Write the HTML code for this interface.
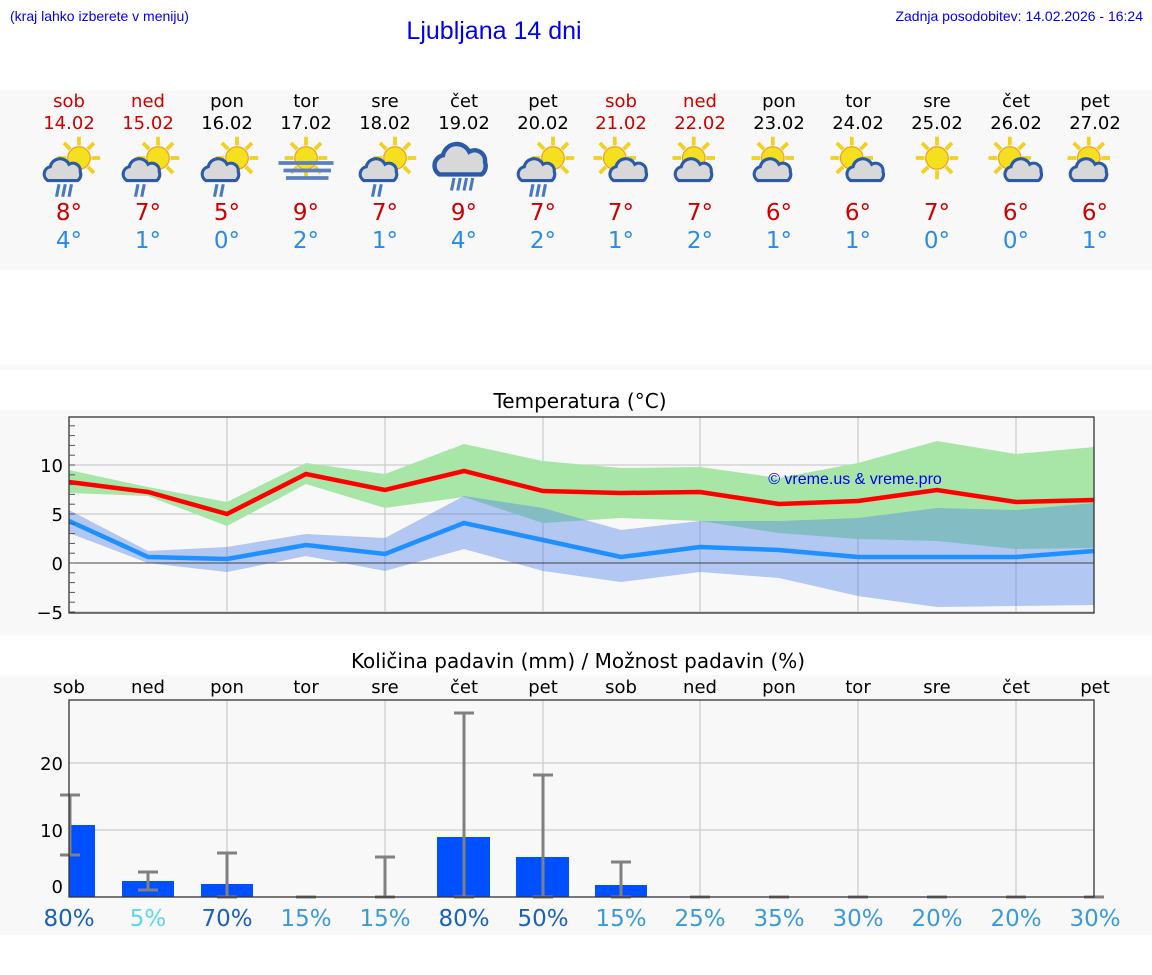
<!DOCTYPE html>
<html><head><meta charset="utf-8"><style>
body{margin:0;width:1152px;height:975px;background:#fff;font-family:"Liberation Sans","DejaVu Sans",sans-serif;overflow:hidden}
svg{position:absolute;left:0;top:0}
</style></head><body>
<svg id="s" width="1152" height="975" xmlns="http://www.w3.org/2000/svg" font-family="DejaVu Sans, Liberation Sans, sans-serif">
<defs>
<g id="sun"><g stroke="#f0d020" stroke-width="3"><line x1="0" y1="-17" x2="0" y2="-10"/><line x1="0" y1="17" x2="0" y2="10"/><line x1="-17" y1="0" x2="-10" y2="0"/><line x1="17" y1="0" x2="10" y2="0"/><line x1="12" y1="12" x2="7" y2="7"/><line x1="-12" y1="-12" x2="-7" y2="-7"/><line x1="12" y1="-12" x2="7" y2="-7"/><line x1="-12" y1="12" x2="-7" y2="7"/></g><circle r="9" fill="#f5e020" stroke="#f0a020" stroke-width="1"/></g>
<path id="cloud" d="M-14,8 a6,6 0 0 1 2,-11 a8,8 0 0 1 15,-2 a6,6 0 0 1 9,6 a6,6 0 0 1 -2,7 z" fill="#d8d8d8" stroke="#2a5aa8" stroke-width="2.5"/>
</defs>
</svg>
<script>
const s=document.getElementById('s');let h='';
const T=(x,y,t,o)=>{o=o||{};h+=`<text x="${x}" y="${y}" font-size="${o.fs||18}" fill="${o.c||'#000'}" text-anchor="${o.a||'middle'}" ${o.f?'font-family="'+o.f+'"':''}>${t}</text>`};
h+='<rect x="0" y="90" width="1152" height="180" fill="#f8f8f8"/>';
h+='<rect x="0" y="365" width="1152" height="5" fill="#f8f8f8"/>';
h+='<rect x="0" y="410" width="1152" height="225" fill="#f8f8f8"/>';
h+='<rect x="0" y="675" width="1152" height="260" fill="#f8f8f8"/>';
T(10,21,'(kraj lahko izberete v meniju)',{a:'start',fs:14,c:'#0000ee',f:'Liberation Sans'});
T(494,39,'Ljubljana 14 dni',{fs:25,c:'#0000ee',f:'Liberation Sans'});
T(1143,21,'Zadnja posodobitev: 14.02.2026 - 16:24',{a:'end',fs:14,c:'#0000ee',f:'Liberation Sans'});
const X=[69,148,227,306,385,464,543,621,700,779,858,937,1016,1095];
const dn=['sob','ned','pon','tor','sre','čet','pet','sob','ned','pon','tor','sre','čet','pet'];
const dt=['14.02','15.02','16.02','17.02','18.02','19.02','20.02','21.02','22.02','23.02','24.02','25.02','26.02','27.02'];
const mx=[8,7,5,9,7,9,7,7,7,6,6,7,6,6],mn=[4,1,0,2,1,4,2,1,2,1,1,0,0,1];
const ic=['r3','r2','r2','fog','r2','cr','r3','sc','sc2','sc2','sc','s','sc','sc2'];
X.forEach((x,i)=>{const c=(i==0||i==1||i==7||i==8)?'#cc0000':'#000';
T(x,107,dn[i],{c});T(x,129,dt[i],{c});
T(x,220,mx[i]+'°',{fs:23,c:'#cc0000'});T(x,248,mn[i]+'°',{fs:23,c:'#2a8ae8'});
const k=ic[i];
h+=`<g transform="translate(${x},168) scale(1.25) translate(${-x},-168)">`;
if(k=='fog'){h+=`<use href="#sun" x="${x}" y="160"/><g stroke="#5a80c0" stroke-width="3"><line x1="${x-22}" y1="164" x2="${x+22}" y2="164"/><line x1="${x-18}" y1="170" x2="${x+20}" y2="170"/><line x1="${x-16}" y1="176" x2="${x+18}" y2="176"/></g>`;}
else if(k=='s'){h+=`<use href="#sun" x="${x}" y="160"/>`;}
else if(k=='cr'){h+=`<use href="#cloud" x="${x}" y="162" transform="translate(${-x*0.4},${-162*0.4}) scale(1.4)"/>`;h+=`<g stroke="#4a78c0" stroke-width="2.5">`;for(let j=0;j<4;j++)h+=`<line x1="${x-8+j*5}" y1="176" x2="${x-10+j*5}" y2="186"/>`;h+='</g>';}
else{const sx=k.startsWith('sc')?x-5:x+8;h+=`<use href="#sun" x="${sx}" y="160"/>`;
 if(k=='sc')h+=`<use href="#cloud" x="${x+8}" y="170"/>`;
 else h+=`<use href="#cloud" x="${x-3}" y="170"/>`;
 if(k[0]=='r'){const n=+k[1];h+=`<g stroke="#4a78c0" stroke-width="2.5">`;for(let j=0;j<n;j++)h+=`<line x1="${x-8+j*5}" y1="181" x2="${x-10+j*5}" y2="191"/>`;h+='</g>';}}
h+='</g>';
});
T(580,408,'Temperatura (°C)',{fs:20});
h+='<rect x="69" y="417" width="1025" height="196" fill="#f8f8f8"/>';
[465,514,612].forEach(y=>h+=`<line x1="69" y1="${y}" x2="1094" y2="${y}" stroke="#ccc" stroke-width="1.3"/>`);
[227,385,543,700,858,1016].forEach(x=>h+=`<line x1="${x}" y1="417" x2="${x}" y2="613" stroke="#ccc" stroke-width="1.3"/>`);
const P=(xs,ys)=>xs.map((x,i)=>x+','+ys[i]).join(' ');
const XX=[69,148,227,306,385,464,543,621,700,779,858,937,1016,1094];
const gu=[470,487,502,463,474,444,461,468,467,478,463,441,454,447],gl=[493,496,526,484,508,497,523,518,521,533,539,541,549,548];
const bu=[510,551,547,534,538,496,508,530,521,521,518,508,510,503],bl=[533,563,572,556,571,549,571,582,572,578,596,607,606,605];
h+=`<polygon points="${P(XX,gu)} ${P(XX.slice().reverse(),gl.slice().reverse())}" fill="#a8e6a8"/>`;
h+=`<polygon points="${P(XX,bu)} ${P(XX.slice().reverse(),bl.slice().reverse())}" fill="rgb(80,130,230)" fill-opacity="0.42"/>`;
h+=`<line x1="69" y1="563" x2="1094" y2="563" stroke="#444" stroke-width="1"/>`;
h+=`<polyline points="${P(XX,[521,557,559,545,554,523,540,557,547,550,557,557,557,551])}" fill="none" stroke="#1e90ff" stroke-width="4.5"/>`;
h+=`<polyline points="${P(XX,[482,492,514,474,490,471,491,493,492,504,501,490,502,500])}" fill="none" stroke="#ff0000" stroke-width="4.5"/>`;
h+='<rect x="69" y="417" width="1025" height="196" fill="none" stroke="#333" stroke-width="1.3"/>';
for(let v=-5;v<=14;v++){const y=563-9.8*v;h+=`<line x1="69" y1="${y}" x2="75" y2="${y}" stroke="#555"/>`;}
[[10,465],[5,514],[0,563],['−5',612]].forEach(([t,y])=>T(63,y+7,t,{a:'end'}));
T(855,484,'© vreme.us &amp; vreme.pro',{fs:16,c:'#0000ee',f:'Liberation Sans'});
T(578,668,'Količina padavin (mm) / Možnost padavin (%)',{fs:20});
X.forEach((x,i)=>T(x,693,dn[i]));
h+='<rect x="69" y="700" width="1025" height="197" fill="#f8f8f8"/>';
[763,830].forEach(y=>h+=`<line x1="69" y1="${y}" x2="1094" y2="${y}" stroke="#ccc" stroke-width="1.3"/>`);
[227,385,543,700,858,1016].forEach(x=>h+=`<line x1="${x}" y1="700" x2="${x}" y2="897" stroke="#ccc" stroke-width="1.3"/>`);
[[69,95,825],[122,174,881],[201,253,884],[437,490,837],[516,569,857],[595,647,885]].forEach(([a,b,t])=>h+=`<rect x="${a}" y="${t}" width="${b-a}" height="${897-t}" fill="#0050ff"/>`);
const eb=[[70,795,855],[148,872,890],[227,853,897],[306,897,897],[385,857,897],[464,713,897],[543,775,897],[621,862,897],[700,897,897],[779,897,897],[858,897,897],[937,897,897],[1016,897,897],[1094,897,897]];
h+='<g stroke="#808080" stroke-width="3">';eb.forEach(([x,a,b])=>{h+=`<line x1="${x}" y1="${a}" x2="${x}" y2="${b}"/><line x1="${x-10}" y1="${a}" x2="${x+10}" y2="${a}"/><line x1="${x-10}" y1="${b}" x2="${x+10}" y2="${b}"/>`});h+='</g>';
h+='<rect x="69" y="700" width="1025" height="197" fill="none" stroke="#333" stroke-width="1.3"/>';
[[20,770],[10,837],[0,893]].forEach(([t,y])=>T(63,y,t,{a:'end'}));
const pc=['80%','5%','70%','15%','15%','80%','50%','15%','25%','35%','30%','20%','20%','30%'];
pc.forEach((p,i)=>{const v=parseInt(p);const c=v>=50?'#1a62b8':v<=5?'#5ad8ea':'#3a9ad8';T(X[i],926,p,{fs:23,c})});
s.innerHTML+=h;
</script>
</body></html>
